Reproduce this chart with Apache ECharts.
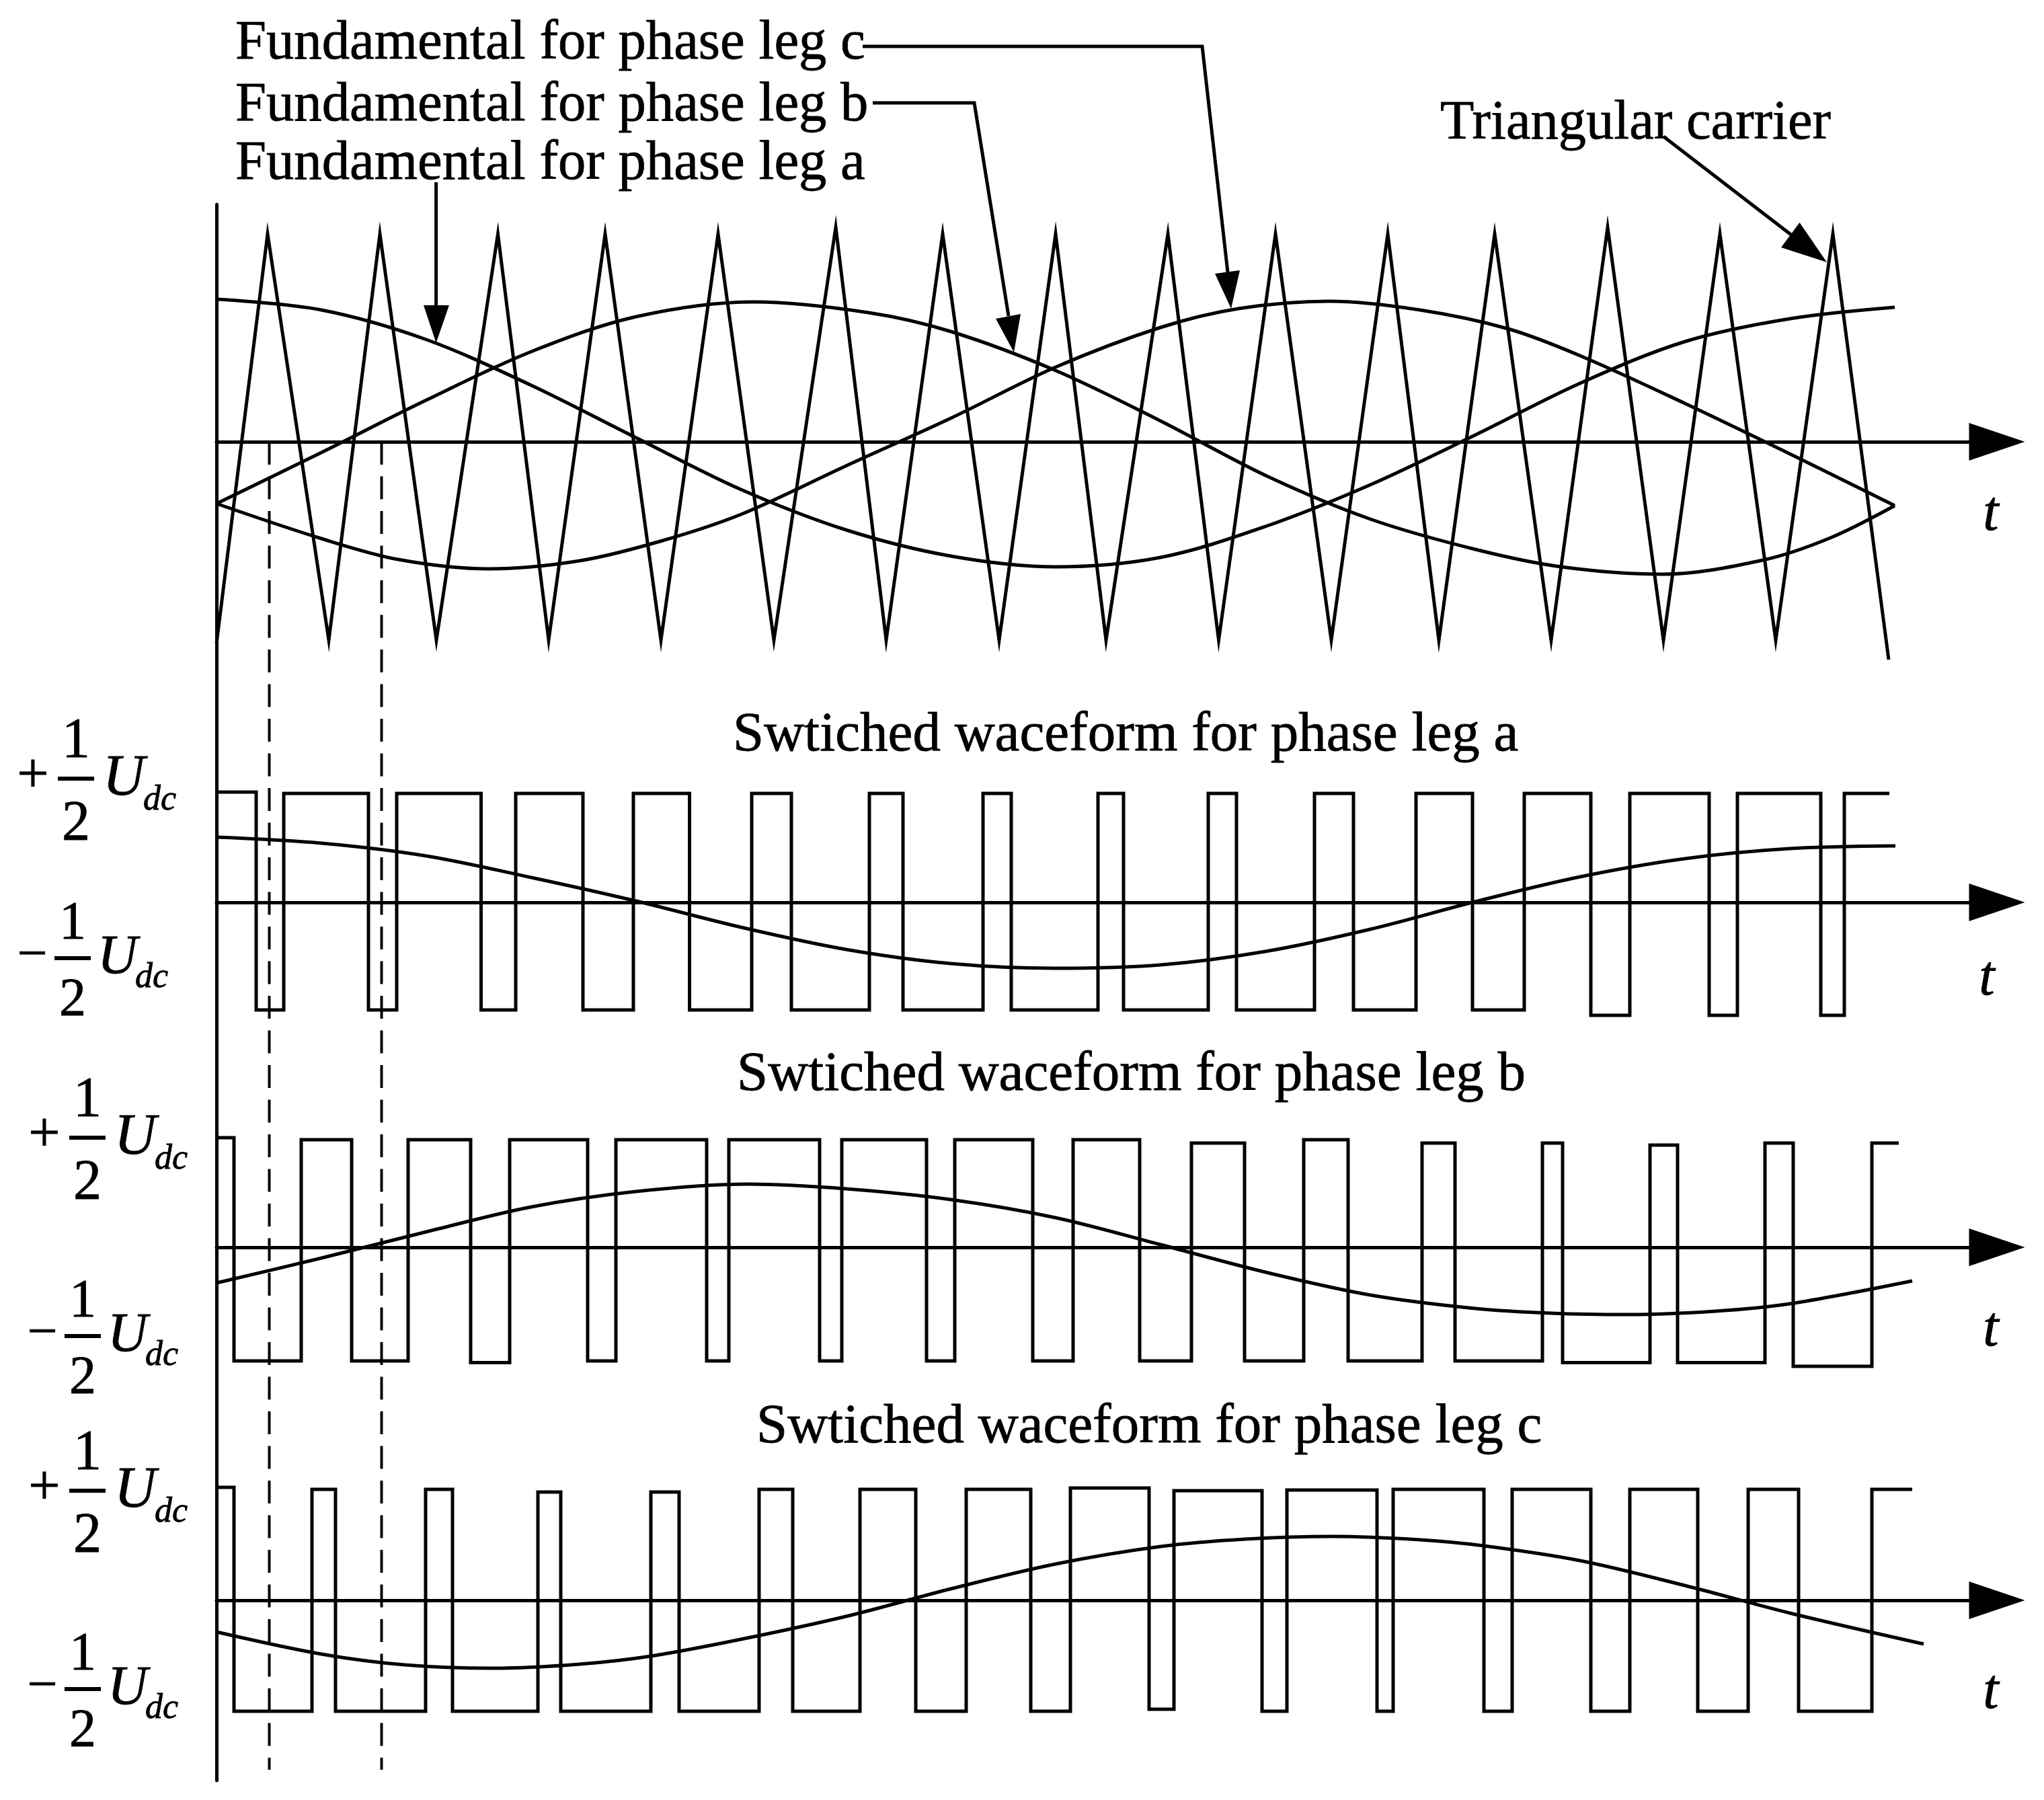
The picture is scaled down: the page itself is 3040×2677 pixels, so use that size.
<!DOCTYPE html>
<html>
<head>
<meta charset="utf-8">
<style>
html,body{margin:0;padding:0;background:#fff;}
#main{width:3040px;height:2677px;}
</style>
<script src="https://cdn.jsdelivr.net/npm/echarts@6/dist/echarts.min.js"></script>
</head>
<body>
<div id="main"></div>
<script>
// time is counted from the vertical axis, levels from each panel's zero line
var carrierT=[0,76,167,243,327,418.5,494,578,661,746,829,921,996,1080,1164,1248,1323,1415,1490.5,1575,1658,1742,1818,1901,1985,2069,2152,2236,2319,2404,2487];
var carrierU=[-300,309,-295,309,-295,309,-295,309,-295,309,-295,319,-295,309,-295,309,-295,309,-295,309,-295,309,-295,309,-295,319,-295,309,-295,309,-324];

var fundAT=[0,156,312,468,624,780,936,1092,1248,1404,1560,1716,1872,2028,2184,2340,2496];
var fundAU=[212,196,152,84,6,-71,-131,-170,-186,-172,-126,-64,10,87,149,183,200];
var fundBT=[0,156,312,468,624,800,970,1092,1248,1404,1560,1716,1872,2000,2150,2300,2400,2496];
var fundBU=[-92,-16,62,134,186,208,192,164,106,31,-50,-115,-160,-186,-197,-176,-143,-95];
var fundCT=[0,156,270,405,540,660,780,936,1092,1248,1404,1520,1655,1790,1921,2028,2184,2340,2496];
var fundCU=[-92,-144,-175,-189,-177,-148,-108,-36,35,111,170,198,209,196,168,128,57,-18,-95];

// switched waveforms: edge times and the level held after each edge
var legAEdges=[0,59,100,226,268,393.5,445,545,620,703.5,796,855,971,1021,1140,1182,1311,1349,1475,1517,1633,1691,1784,1868,1945,2044,2102,2220,2262,2386,2421,2488];
var legALevels=[164,-160,162,-160,162,-160,162,-160,162,-160,162,-160,162,-160,162,-160,162,-160,162,-160,162,-160,162,-160,162,-168,162,-168,162,-168,162,162];
var legBEdges=[0,26,126,201,285,378,436,552,594,729,762,897,930,1056,1098,1214,1274,1373,1450,1529,1617,1683,1793,1842,1972,2002,2132,2173,2303,2345,2462,2502];
var legBLevels=[163,-169,160,-169,160,-171.5,160,-169,160,-169,160,-169,160,-169,160,-169,160,-169,155,-169,160,-169,155,-169,155,-171.5,152,-171.5,155,-177,155,155];
var legCEdges=[0,26,142,177,311,351,478,512,646,688,807,857,957,1040,1115,1211,1270,1387,1424,1555,1592,1726,1750,1885,1927,2044,2102,2203,2278,2353,2462,2522];
var legCLevels=[168,-165,165,-165,165,-165,161,-165,161,-165,165,-165,165,-165,165,-165,167,-162,163,-165,164,-165,165,-165,165,-165,165,-165,165,-165,165,165];

// fundamentals redrawn under each switched waveform
var refAT=[0,156,312,468,624,780,936,1092,1248,1404,1560,1716,1872,2028,2184,2340,2497];
var refAU=[97,88,69,37,2,-37,-70,-91,-98,-93,-73,-40,1,38,65,80,84];
var refBT=[0,156,312,468,624,790,936,1092,1248,1404,1560,1716,1872,1985,2100,2230,2340,2522];
var refBU=[-53,-16,23,60,83,94,87,71,44,4,-37,-71,-91,-98,-100,-95,-84,-50];
var refCT=[0,156,280,411,540,646,780,936,1092,1248,1404,1530,1660,1790,1885,2028,2184,2340,2539];
var refCU=[-47,-80,-96,-101,-95,-83,-58,-24,17,54,80,91,95,90,81,59,22,-19,-65];

var dashTimes=[78.5,245.5];

var axisEnd=2648;
var curve=0.33;
var serif='"Liberation Serif"';
var myChart=echarts.init(document.getElementById('main'));

function zip(xs,ys){
    return xs.map(function(x,i){return [x,ys[i]];});
}
function lineSeries(grid,data,extra){
    var s={
        type:'line',
        xAxisIndex:grid,
        yAxisIndex:grid,
        data:data,
        showSymbol:false,
        symbol:'none',
        clip:false,
        silent:true,
        lineStyle:{color:'#000',width:5,join:'miter',miterLimit:30}
    };
    for(var k in extra){s[k]=extra[k];}
    return s;
}

// one panel = a grid whose y axis is stacked right under the previous one
var panels=[
    {top:304,max:353,min:-443},
    {top:1100,max:242,min:-258},
    {top:1600,max:255,min:-275},
    {top:2130,max:250,min:-268}
];
var grids=[],xAxes=[],yAxes=[];
panels.forEach(function(p){
    grids.push({left:322,width:axisEnd,top:p.top,height:p.max-p.min});
    xAxes.push({
        type:'value',gridIndex:grids.length-1,min:0,max:axisEnd,
        axisLine:{show:true,symbol:['none','triangle'],symbolSize:[56,83],lineStyle:{color:'#000',width:5}},
        axisTick:{show:false},axisLabel:{show:false},splitLine:{show:false}
    });
    yAxes.push({
        type:'value',gridIndex:grids.length-1,min:p.min,max:p.max,
        axisLine:{show:true,lineStyle:{color:'#000',width:5}},
        axisTick:{show:false},axisLabel:{show:false},splitLine:{show:false}
    });
});
// the two dashed guides run through all panels
grids.push({left:322,width:axisEnd,top:657,height:1975});
xAxes.push({type:'value',gridIndex:4,min:0,max:axisEnd,show:false});
yAxes.push({type:'value',gridIndex:4,min:0,max:1,show:false});

var series=[
    lineSeries(0,zip(carrierT,carrierU)),
    lineSeries(0,zip(fundAT,fundAU),{smooth:curve}),
    lineSeries(0,zip(fundBT,fundBU),{smooth:curve}),
    lineSeries(0,zip(fundCT,fundCU),{smooth:curve}),
    lineSeries(1,zip(legAEdges,legALevels),{step:'end'}),
    lineSeries(1,zip(refAT,refAU),{smooth:curve}),
    lineSeries(2,zip(legBEdges,legBLevels),{step:'end'}),
    lineSeries(2,zip(refBT,refBU),{smooth:curve}),
    lineSeries(3,zip(legCEdges,legCLevels),{step:'end'}),
    lineSeries(3,zip(refCT,refCU),{smooth:curve})
];
dashTimes.forEach(function(t){
    series.push(lineSeries(4,[[t,1],[t,0]],{lineStyle:{color:'#000',width:4,type:[34,17.5]}}));
});

function txt(text,x,base,size,align,italic){
    return {
        type:'text',silent:true,
        style:{
            text:text,x:x,y:base-0.25*size,
            font:(italic?'italic ':'')+size+'px '+serif,
            fill:'#000',stroke:'#000',lineWidth:0.8,align:align||'left',verticalAlign:'middle'
        }
    };
}
function ln(points,w){
    return {type:'polyline',silent:true,shape:{points:points},style:{stroke:'#000',fill:null,lineWidth:w||5}};
}
function head(points){
    return {type:'polygon',silent:true,shape:{points:points},style:{fill:'#000',stroke:null}};
}
function dcLabel(sign,bx,by){
    var plus=sign==='+';
    var size=plus?84:80;
    return [
        txt(plus?'+':'\u2212',bx-(plus?64:60),by+(plus?19:18),size,'center'),
        ln([[bx-27,by],[bx+27,by]],6),
        txt('1',bx,by-(plus?33:30),size,'center'),
        txt('2',bx,by+(plus?90:84),size,'center'),
        txt('U',bx+(plus?40:37),by+(plus?23:21),size+2,'left',true),
        txt('dc',bx+(plus?100:93),by+(plus?45:42),52,'left',true)
    ];
}

var els=[
    txt('Fundamental for phase leg c',350,86,82.7),
    txt('Fundamental for phase leg b',350,178,82.7),
    txt('Fundamental for phase leg a',350,265,82.7),
    txt('Triangular carrier',2142,205,82.5),
    txt('Swtiched waceform for phase leg a',1090,1115,83),
    txt('Swtiched waceform for phase leg b',1096,1620,83),
    txt('Swtiched waceform for phase leg c',1125,2144,83),
    txt('t',2961,787,84,'center',true),
    txt('t',2955,1478,84,'center',true),
    txt('t',2961,2000,84,'center',true),
    txt('t',2961,2539,84,'center',true),
    ln([[648.6,271],[648.6,460]]),
    head([[630,454],[668,454],[648.6,510]]),
    ln([[1298,153],[1449,153],[1500,470]]),
    head([[1481,474],[1518,467],[1508,524]]),
    ln([[1283,69],[1788,69],[1826,405]]),
    head([[1807,407],[1844,402],[1831,459]]),
    ln([[2474,203],[2665,350]]),
    head([[2676.5,331],[2649,368],[2717,390]])
];
els=els.concat(dcLabel('+',113,1158),dcLabel('-',108,1425));
els=els.concat(dcLabel('+',130,1692),dcLabel('-',123,1987));
els=els.concat(dcLabel('+',130,2217),dcLabel('-',123,2512));

var option={
    backgroundColor:'#fff',
    animation:false,
    grid:grids,
    xAxis:xAxes,
    yAxis:yAxes,
    series:series,
    graphic:{elements:els}
};
myChart.setOption(option);
</script>
</body>
</html>
